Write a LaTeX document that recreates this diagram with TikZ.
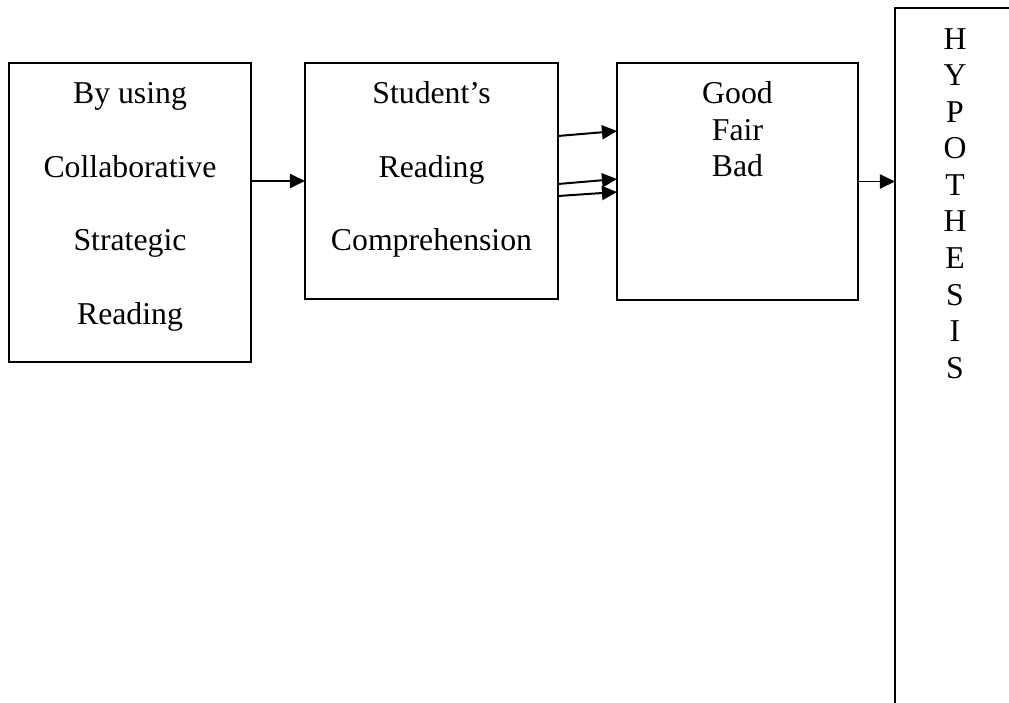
\documentclass[tikz,border=0pt]{standalone}
\usepackage{fontspec}
\setmainfont{Liberation Serif}
\usetikzlibrary{positioning, arrows.meta}

\newdimen\pxu
\pxu=0.3778pt

\tikzset{
	box/.style={draw, line width=0.75pt, inner sep=0pt, outer sep=0pt, anchor=north west},
	words/.style={inner sep=0pt, align=center, font=\fontsize{12}{13.8}\selectfont},
	wide words/.style={words, font=\fontsize{12}{27.8}\selectfont},
	link/.style={line width=0.75pt, -{Triangle[length=5.7pt,width=5.3pt]}}
}

\begin{document}
\begin{tikzpicture}[x=\pxu, y=\pxu]
	\useasboundingbox (0,0) rectangle (1009,-702);
	\clip (0,0) rectangle (1009,-702);
	\node[box, minimum width=242\pxu, minimum height=299\pxu] (csr) at (9,-63) {};
	\node[wide words, below=19 of csr.north] (csrtext) {By using\\Collaborative\\Strategic\\Reading};
	\node[box, minimum width=253\pxu, minimum height=236\pxu] (src) at (305,-63) {};
	\node[wide words, below=18 of src.north] (srctext) {Student’s\\Reading\\Comprehension};
	\node[box, minimum width=241\pxu, minimum height=237\pxu] (res) at (617,-63) {};
	\node[words, below=18 of res.north] (restext) {Good\\Fair\\Bad};
	\node[box, minimum width=120\pxu, minimum height=720\pxu] (hyp) at (895,-8) {};
	\node[words, below=20 of hyp.north] (hyptext) {H\\Y\\P\\O\\T\\H\\E\\S\\I\\S};
	% connectors
	\draw[link] (csr.east |- src.west) -- (src.west);
	\draw[link] ([yshift=45\pxu]src.east) -- ([yshift=50.5\pxu]res.west);
	\draw[link] ([yshift=-3\pxu]src.east) -- ([yshift=2.5\pxu]res.west);
	\draw[link] ([yshift=-15\pxu]src.east) -- ([yshift=-10.5\pxu]res.west);
	\draw[link] (res.east) -- (res.east -| hyp.west);
\end{tikzpicture}
\end{document}
